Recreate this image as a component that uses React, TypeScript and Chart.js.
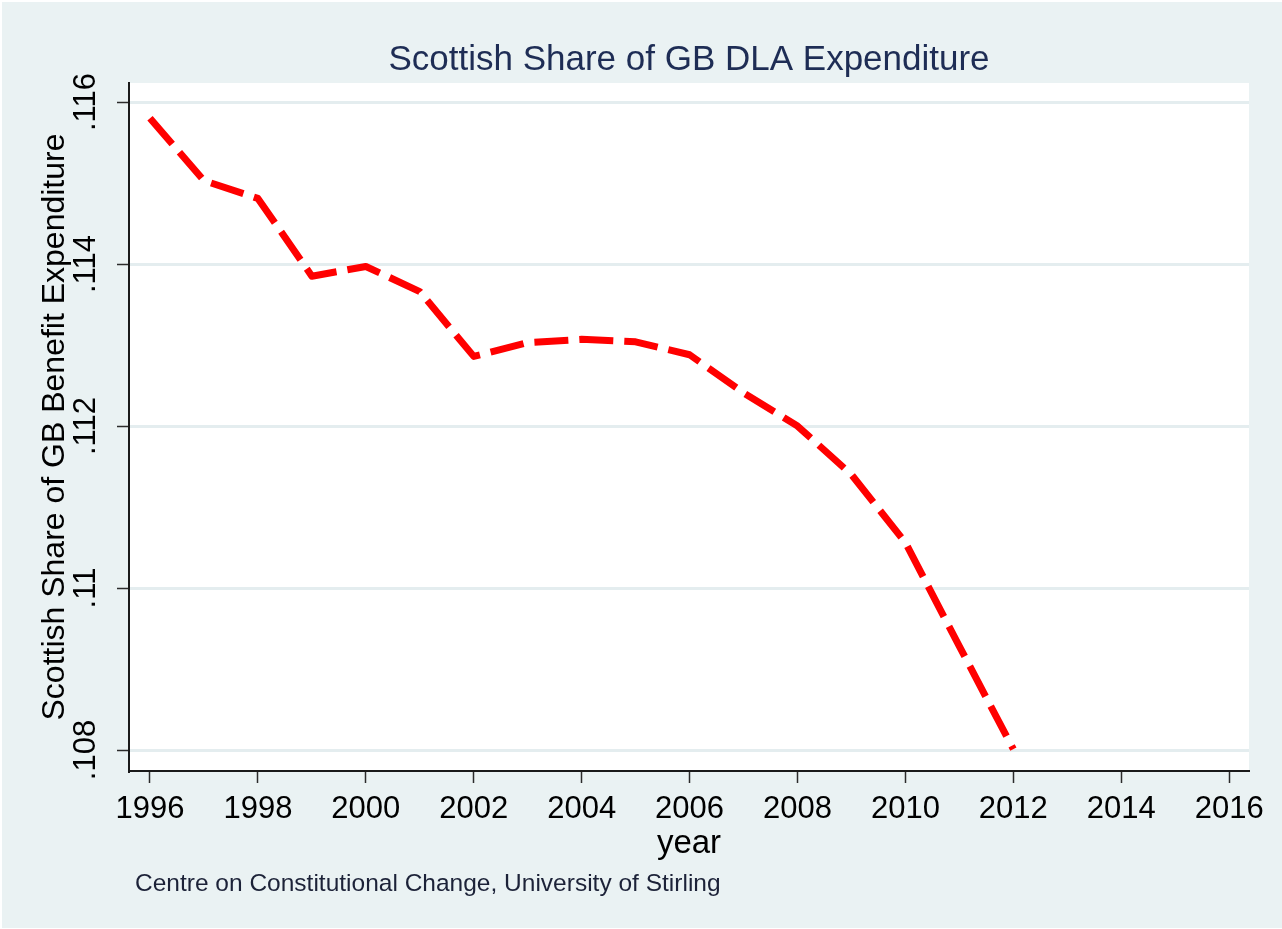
import React, { useEffect, useRef } from "react";
import { Chart, registerables } from "chart.js";

Chart.register(...registerables);

// ---- data ----
const YEARS = [1996, 1997, 1998, 1999, 2000, 2001, 2002, 2003, 2004, 2005, 2006, 2007, 2008, 2009, 2010, 2011, 2012];
const SHARE = [0.1158, 0.11503, 0.11481, 0.11385, 0.11397, 0.11366, 0.11286, 0.11303, 0.11307, 0.11304, 0.11288, 0.11241, 0.112, 0.1114, 0.11056, 0.10928, 0.10801];
const X_TICKS = [1996, 1998, 2000, 2002, 2004, 2006, 2008, 2010, 2012, 2014, 2016];
const Y_TICKS = [0.108, 0.11, 0.112, 0.114, 0.116];
const Y_TICK_LABELS = [".108", ".11", ".112", ".114", ".116"];
const TITLE = "Scottish Share of GB DLA Expenditure";
const Y_TITLE = "Scottish Share of GB Benefit Expenditure";
const X_TITLE = "year";
const NOTE = "Centre on Constitutional Change, University of Stirling";

// ---- style ----
const FONT = "'Liberation Sans', Arial, sans-serif";
const BG = "#EAF2F3";
const GRID = "#E4EDEF";
const NAVY = "#1E2D55";
const NOTE_COLOR = "#1C2238";

const decor = {
  id: "decor",
  beforeDraw(chart: any) {
    const { ctx, chartArea: a, width, height } = chart;
    ctx.save();
    ctx.fillStyle = "#ffffff";
    ctx.fillRect(0, 0, width, height);
    ctx.fillStyle = BG;
    ctx.fillRect(2, 2, width - 2, height - 3);
    ctx.fillStyle = "#ffffff";
    ctx.fillRect(a.left, a.top, a.right - a.left, a.bottom - a.top);
    ctx.restore();
  },
  afterDraw(chart: any) {
    const { ctx, chartArea: a } = chart;
    const cx = (a.left + a.right) / 2;
    ctx.save();
    ctx.textAlign = "center";
    ctx.textBaseline = "alphabetic";
    ctx.fillStyle = NAVY;
    ctx.font = `35px ${FONT}`;
    ctx.fillText(TITLE, cx, a.top - 13);

    ctx.fillStyle = "#000";
    ctx.font = `33px ${FONT}`;
    ctx.fillText(X_TITLE, cx, a.bottom + 82);

    ctx.save();
    ctx.translate(55, (a.top + a.bottom) / 2);
    ctx.rotate(-Math.PI / 2);
    ctx.textBaseline = "middle";
    ctx.font = `32px ${FONT}`;
    ctx.fillText(Y_TITLE, 0, 0);
    ctx.restore();

    ctx.textAlign = "left";
    ctx.font = `24.5px ${FONT}`;
    ctx.fillStyle = NOTE_COLOR;
    ctx.fillText(NOTE, 135, a.bottom + 120);
    ctx.restore();
  },
};

export default function App() {
  const ref = useRef<HTMLCanvasElement | null>(null);

  useEffect(() => {
    if (!ref.current) return;
    const chart = new Chart(ref.current, {
      type: "line",
      data: {
        datasets: [
          {
            data: YEARS.map((x, i) => ({ x, y: SHARE[i] })),
            borderColor: "#FF0000",
            borderWidth: 7,
            borderDash: [34, 11],
            borderCapStyle: "butt",
            borderJoinStyle: "round",
            pointRadius: 0,
            tension: 0,
            fill: false,
          },
        ],
      },
      options: {
        animation: false,
        responsive: false,
        devicePixelRatio: 1,
        layout: { padding: { top: 83, right: 33, left: 0, bottom: 0 } },
        plugins: {
          legend: { display: false },
          title: { display: false },
          tooltip: { enabled: false },
        },
        scales: {
          x: {
            type: "linear",
            position: "bottom",
            min: 1995.611,
            max: 2016.367,
            afterBuildTicks: (s: any) => {
              s.ticks = X_TICKS.map((v) => ({ value: v }));
            },
            afterFit: (s: any) => {
              s.height = 158;
            },
            ticks: {
              autoSkip: false,
              maxRotation: 0,
              minRotation: 0,
              padding: 8,
              color: "#000",
              font: { family: FONT, size: 31 },
              callback: (v: any, i: number) => String(X_TICKS[i]),
            },
            grid: {
              drawOnChartArea: false,
              drawTicks: true,
              tickLength: 12,
              tickColor: "#2b2b2b",
              tickWidth: 1.5,
            },
            border: { display: true, color: "#1a1a1a", width: 2 },
          },
          y: {
            type: "linear",
            position: "left",
            min: 0.107741,
            max: 0.116235,
            afterBuildTicks: (s: any) => {
              s.ticks = Y_TICKS.map((v) => ({ value: v }));
            },
            afterFit: (s: any) => {
              s.width = 129;
            },
            ticks: {
              autoSkip: false,
              minRotation: 90,
              maxRotation: 90,
              crossAlign: "center",
              padding: 0,
              color: "#000",
              font: { family: FONT, size: 31 },
              callback: (v: any, i: number) => Y_TICK_LABELS[i],
            },
            grid: {
              color: GRID,
              lineWidth: 3,
              drawTicks: true,
              tickLength: 12,
              tickColor: "#2b2b2b",
              tickWidth: 1.5,
            },
            border: { display: true, color: "#1a1a1a", width: 2 },
          },
        },
      },
      plugins: [decor],
    } as any);
    return () => chart.destroy();
  }, []);

  return (
    <div style={{ position: "fixed", left: 0, top: 0, width: 1282, height: 929 }}>
      <canvas ref={ref} width={1282} height={929} style={{ width: 1282, height: 929, display: "block" }} />
    </div>
  );
}
